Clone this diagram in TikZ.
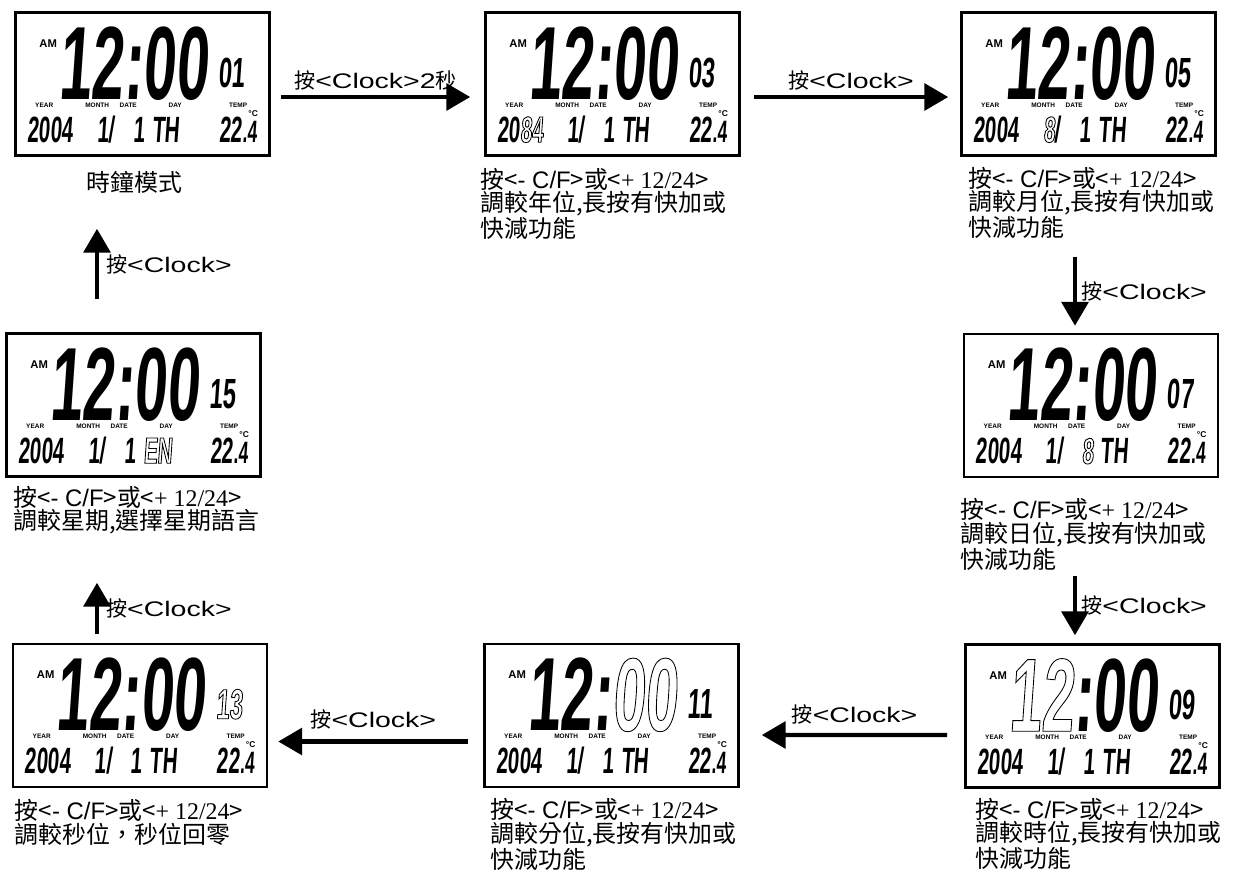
\documentclass[tikz,border=0pt]{standalone}
\usepackage{fontspec}
\usepackage{tikz}
\usetikzlibrary{arrows.meta}
\newfontfamily\cjk{Noto Sans CJK TC}
\newfontfamily\arial{Liberation Sans}
\newfontfamily\serifnum{Liberation Serif}
\newfontfamily\segfont[FakeStretch=0.56,FakeSlant=0.07]{Liberation Sans}
\newfontfamily\keyfont[FakeStretch=1.35]{Liberation Sans}
\newcommand\ol[1]{\special{pdf:literal direct 1 Tr 0.6 w}#1\special{pdf:literal direct 0 Tr}}
\newcommand\keys{按<{\arial- C/F}>或<{\serifnum+ 12/24}>}
\tikzset{
    lcd/.style = {rectangle, draw=black, line width=1.8pt, minimum width=6.35cm, minimum height=3.575cm, inner sep=0pt},
    seg/.style = {inner sep=0pt, anchor=base west, text depth=0pt},
    bigseg/.style = {seg, font=\segfont\bfseries\fontsize{74}{74}\selectfont},
    midseg/.style = {seg, font=\segfont\bfseries\fontsize{30}{30}\selectfont},
    lowseg/.style = {seg, font=\segfont\bfseries\fontsize{26}{26}\selectfont},
    tag/.style = {inner sep=0pt, font=\arial\bfseries\fontsize{4.6}{5}\selectfont},
    ampm/.style = {inner sep=0pt, font=\arial\bfseries\fontsize{8}{8}\selectfont},
    caption/.style = {anchor=north west, align=left, inner sep=0pt, font=\cjk\fontsize{17}{14.8}\selectfont},
    lab/.style = {inner sep=1pt, font=\cjk\fontsize{15}{15}\selectfont},
    flow/.style = {->, line width=3pt}
}
\newcommand\lcdpanel[9]{%
    \node[lcd] (#1) at (#2) {};
    \node[ampm] (#1-am) at ([shift={(34,32)}]#1.north west) {AM};
    \node[bigseg] (#1-hm) at ([shift={(44,88)}]#1.north west) {#3:#4};
    \node[midseg] (#1-s) at ([shift={(204,76)}]#1.north west) {#5};
    \node[tag] (#1-yt) at ([shift={(30,94)}]#1.north west) {YEAR};
    \node[tag] (#1-mt) at ([shift={(83,94)}]#1.north west) {MONTH};
    \node[tag] (#1-dt) at ([shift={(114,94)}]#1.north west) {DATE};
    \node[tag] (#1-wt) at ([shift={(161,94)}]#1.north west) {DAY};
    \node[tag] (#1-tt) at ([shift={(224,94)}]#1.north west) {TEMP};
    \node[lowseg] (#1-y) at ([shift={(13,131)}]#1.north west) {#6};
    \node[lowseg] (#1-m) at ([shift={(83,131)}]#1.north west) {#7/};
    \node[lowseg] (#1-d) at ([shift={(119,131)}]#1.north west) {#8};
    \node[lowseg] (#1-w) at ([shift={(138,131)}]#1.north west) {#9};
    \node[lowseg] (#1-t) at ([shift={(205,131)}]#1.north west) {22\fontsize{22}{22}\selectfont.4};
    \node[tag, font=\arial\bfseries\fontsize{6}{6}\selectfont] (#1-c) at ([shift={(239,102)}]#1.north west) {°C};
}

\begin{document}
\begin{tikzpicture}
    [x=0.025cm, y=-0.025cm,
    >={Triangle[length=17pt,width=19pt]}]

    \useasboundingbox (0,0) rectangle (1239,871);

    \lcdpanel{d1}{142.5,84}{12}{00}{01}{2004}{1}{1}{TH}
    \lcdpanel{d2}{612.5,84}{12}{00}{03}{20\ol{84}}{1}{1}{TH}
    \lcdpanel{d3}{1088.5,84}{12}{00}{05}{2004}{\ol{8}}{1}{TH}
    \lcdpanel{d4}{1091,405.5}{12}{00}{07}{2004}{1}{\ol{8}}{TH}
    \lcdpanel{d5}{1092.5,716}{\ol{12}}{00}{09}{2004}{1}{1}{TH}
    \lcdpanel{d6}{611.5,715.5}{12}{\ol{00}}{11}{2004}{1}{1}{TH}
    \lcdpanel{d7}{140,715.5}{12}{00}{\ol{13}}{2004}{1}{1}{TH}
    \lcdpanel{d8}{133.5,405}{12}{00}{15}{2004}{1}{1}{\ol{EN}}

    \node[caption, anchor=north] (c1) at ([shift={(-8,14)}]d1.south) {時鐘模式};
    \node[caption] (c2) at ([shift={(-4,11)}]d2.south west) {\keys\\調較年位,長按有快加或\\快減功能};
    \node[caption] (c3) at ([shift={(8,10)}]d3.south west) {\keys\\調較月位,長按有快加或\\快減功能};
    \node[caption] (c4) at ([shift={(-2,20)}]d4.south west) {\keys\\調較日位,長按有快加或\\快減功能};
    \node[caption] (c5) at ([shift={(11,9)}]d5.south west) {\keys\\調較時位,長按有快加或\\快減功能};
    \node[caption] (c6) at ([shift={(7,10)}]d6.south west) {\keys\\調較分位,長按有快加或\\快減功能};
    \node[caption] (c7) at ([shift={(3,11)}]d7.south west) {\keys\\調較秒位，秒位回零};
    \node[caption] (c8) at ([shift={(8,8)}]d8.south west) {\keys\\調較星期,選擇星期語言};

    \draw[flow] ([shift={(10,13)}]d1.east) -- ([shift={(-14,13)}]d2.west)
        node[lab, midway, above=2pt] (a1) {按{\keyfont <Clock>2}秒};
    \draw[flow] ([shift={(13,13)}]d2.east) -- ([shift={(-12,13)}]d3.west)
        node[lab, midway, above=2pt] (a2) {按{\keyfont <Clock>}};
    \draw[flow] ([shift={(-13.5,100)}]d3.south) -- ([shift={(-16,-7)}]d4.north)
        node[lab, midway, right=2pt] (a3) {按{\keyfont <Clock>}};
    \draw[flow] ([shift={(-16,98)}]d4.south) -- ([shift={(-17.5,-8)}]d5.north)
        node[lab, midway, right=2pt] (a4) {按{\keyfont <Clock>}};
    \draw[flow] ([shift={(-17,19)}]d5.west) -- ([shift={(22,19.5)}]d6.east)
        node[lab, midway, above=5pt] (a5) {按{\keyfont <Clock>}};
    \draw[flow] ([shift={(-15,26)}]d6.west) -- ([shift={(10,26)}]d7.east)
        node[lab, midway, above=6pt] (a6) {按{\keyfont <Clock>}};
    \draw[flow] ([shift={(-43,-9)}]d7.north) -- ([shift={(-36.5,105)}]d8.south)
        node[lab, midway, right=4pt] (a7) {按{\keyfont <Clock>}};
    \draw[flow] ([shift={(-36.5,-33)}]d8.north) -- ([shift={(-45.5,72)}]d1.south)
        node[lab, midway, right=4pt] (a8) {按{\keyfont <Clock>}};
\end{tikzpicture}
\end{document}
